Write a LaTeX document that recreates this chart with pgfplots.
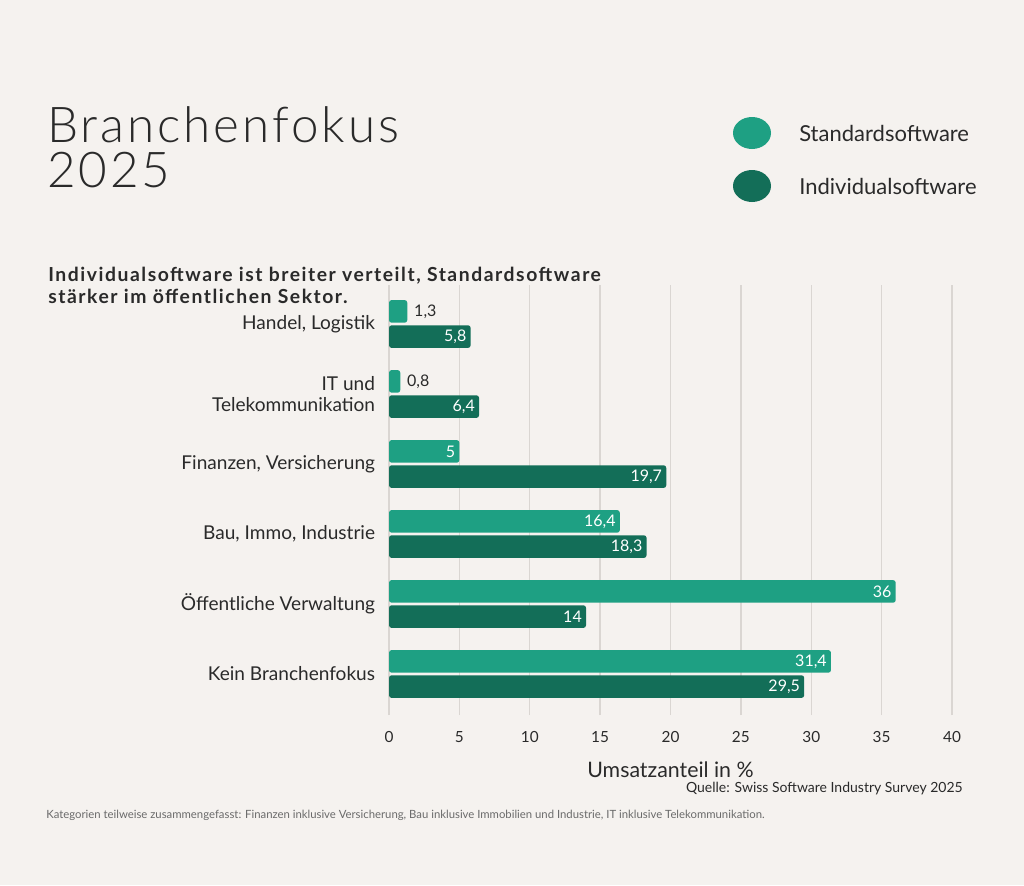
\documentclass[border=0pt]{standalone}
\usepackage{pgfplots}
\pgfplotsset{compat=1.18}
\usepackage{fontspec}
\setmainfont{Lato}
\newfontfamily\titlefont{Lato}[UprightFont=* Light, LetterSpace=6]
\definecolor{bg}{HTML}{F5F2EF}
\definecolor{stdc}{HTML}{1EA083}
\definecolor{indc}{HTML}{136E58}
\definecolor{txt}{HTML}{2A2A2A}
\definecolor{gridc}{HTML}{DAD6D2}
\definecolor{foot}{HTML}{6A6A6A}
\begin{document}
\begin{tikzpicture}[x=0.75pt,y=-0.75pt]
\fill[bg] (0,0) rectangle (1024,885);
\useasboundingbox (0,0) rectangle (1024,885);
% title
\node[anchor=base west, inner sep=0, text=txt, align=left, font=\titlefont\fontsize{37}{33.75}\selectfont] at (47,187) {Branchenfokus\\2025};
% legend
\fill[stdc] (752,133) ellipse [x radius=14.25pt, y radius=12pt];
\fill[indc] (752,186) ellipse [x radius=14.25pt, y radius=12pt];
\node[anchor=base west, inner sep=0, text=txt, font=\fontsize{16.5}{18}\selectfont] at (799,141) {Standardsoftware};
\node[anchor=base west, inner sep=0, text=txt, font=\fontsize{16.5}{18}\selectfont] at (799,194) {Individualsoftware};
% subtitle
\node[anchor=base west, inner sep=0, text=txt, align=left, font=\fontsize{14.5}{16.5}\selectfont\bfseries\addfontfeatures{LetterSpace=8}] at (48,303) {Individualsoftware ist breiter verteilt, Standardsoftware\\stärker im öffentlichen Sektor.};
\begin{axis}[
  at={(291.75pt,-536.25pt)}, anchor=south west,
  width=422.25pt, height=322.5pt, scale only axis,
  xbar, bar width=17pt, bar shift=0pt,
  xmin=0, xmax=40, ymin=-0.586, ymax=5.557,
  axis line style={draw=none}, tick style={draw=none},
  xmajorgrids, grid style={gridc, line width=1pt},
  xtick={0,5,...,40},
  ytick={0,1,2,3,4,5},
  yticklabels={Kein Branchenfokus, Öffentliche Verwaltung, {Bau, Immo, Industrie}, {Finanzen, Versicherung}, {IT und\\Telekommunikation}, {Handel, Logistik}},
  yticklabel style={align=right, inner sep=0pt, text=txt, font=\fontsize{14.3}{16}\selectfont},
  yticklabel shift=6pt,
  xticklabel style={anchor=center, inner sep=0pt, text=txt, font=\fontsize{11.5}{13}\selectfont},
  xticklabel shift=16.5pt,
  xlabel={Umsatzanteil in \%},
  xlabel style={at={(axis description cs:0.5,-0.128)}, anchor=center, inner sep=0pt, text=txt, font=\fontsize{16}{18}\selectfont},
  /pgf/number format/use comma,
  /pgf/number format/assume math mode=true,
  clip=false,
]
% Standardsoftware, labels inside
\addplot[draw=none, fill=stdc, rounded corners=2pt,
  nodes near coords, nodes near coords style={anchor=east, text=white, inner sep=3pt, font=\fontsize{12}{13}\selectfont}]
  coordinates {(5,3.18) (16.4,2.18) (36,1.18) (31.4,0.18)};
% Standardsoftware, labels outside
\addplot[draw=none, fill=stdc, rounded corners=2pt,
  nodes near coords, nodes near coords style={anchor=west, text=txt, inner sep=5pt, font=\fontsize{12}{13}\selectfont}]
  coordinates {(1.3,5.18) (0.8,4.18)};
% Individualsoftware
\addplot[draw=none, fill=indc, rounded corners=2pt,
  nodes near coords, nodes near coords style={anchor=east, text=white, inner sep=3pt, font=\fontsize{12}{13}\selectfont}]
  coordinates {(5.8,4.82) (6.4,3.82) (19.7,2.82) (18.3,1.82) (14,0.82) (29.5,-0.18)};
\end{axis}
\node[anchor=base east, inner sep=0, text=txt, font=\fontsize{10.5}{12}\selectfont] at (963,792) {Quelle: Swiss Software Industry Survey 2025};
\node[anchor=base west, inner sep=0, text=foot, font=\fontsize{8.5}{10}\selectfont] at (46,818) {Kategorien teilweise zusammengefasst: Finanzen inklusive Versicherung, Bau inklusive Immobilien und Industrie, IT inklusive Telekommunikation.};
\end{tikzpicture}
\end{document}
